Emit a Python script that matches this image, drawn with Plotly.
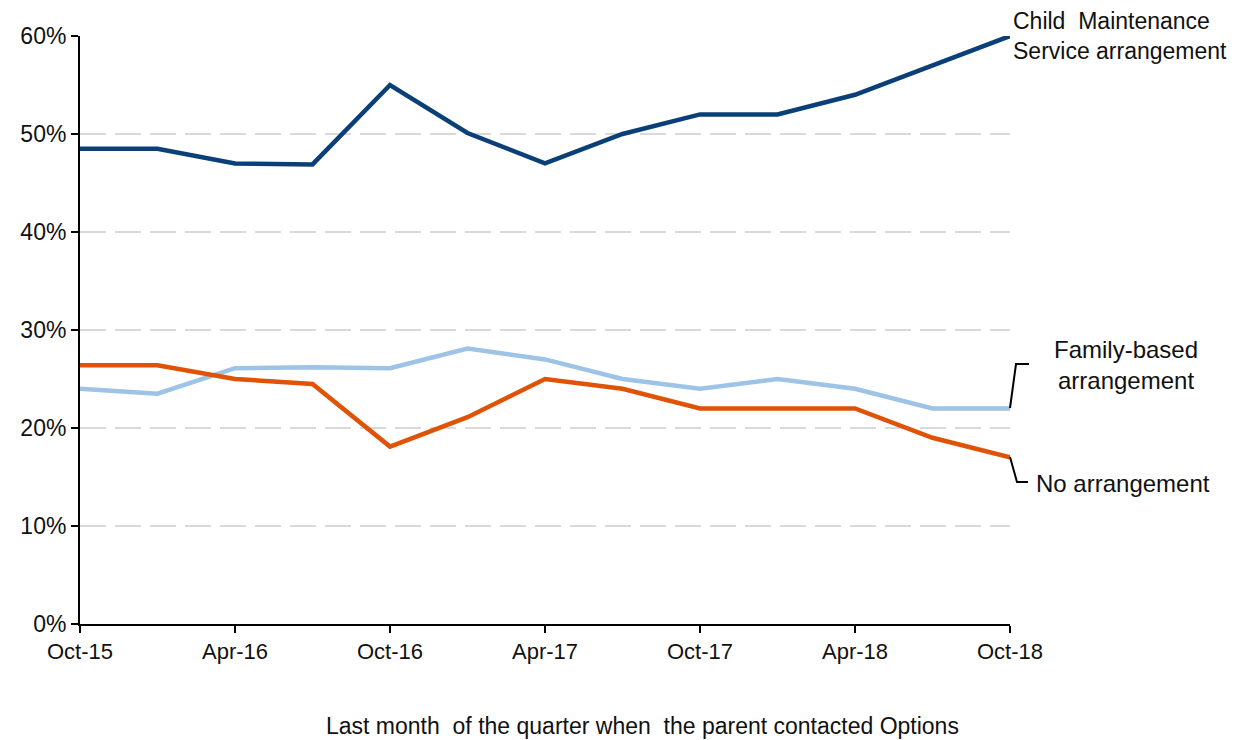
import plotly.graph_objects as go

quarters = ["Oct-15", "Jan-16", "Apr-16", "Jul-16", "Oct-16", "Jan-17", "Apr-17",
            "Jul-17", "Oct-17", "Jan-18", "Apr-18", "Jul-18", "Oct-18"]
cms = [48.5, 48.5, 47.0, 46.9, 55.0, 50.1, 47.0, 50.0, 52.0, 52.0, 54.0, 57.0, 60.0]
family = [24.0, 23.5, 26.1, 26.2, 26.1, 28.1, 27.0, 25.0, 24.0, 25.0, 24.0, 22.0, 22.0]
none_arr = [26.4, 26.4, 25.0, 24.5, 18.1, 21.1, 25.0, 24.0, 22.0, 22.0, 22.0, 19.0, 17.0]
y_ticks = [0, 10, 20, 30, 40, 50, 60]

FONT = "Liberation Sans, Arial, sans-serif"
OFF = 8  # page body margin
W, H = 1238 - OFF, 740 - OFF
L, R, T, B = 80 - OFF, 228, 36 - OFF, 116
PW, PH = W - L - R, H - T - B

def px(x):
    # page pixel -> paper fraction
    return (x - OFF - L) / PW

def py(y):
    return (H - B - (y - OFF)) / PH

fig = go.Figure()
fig.add_trace(go.Scatter(x=quarters, y=family, mode="lines",
                         line=dict(color="#9DC3E6", width=4.5), name="Family-based arrangement"))
fig.add_trace(go.Scatter(x=quarters, y=none_arr, mode="lines",
                         line=dict(color="#E05206", width=4.5), name="No arrangement"))
fig.add_trace(go.Scatter(x=quarters, y=cms, mode="lines",
                         line=dict(color="#0A3F78", width=4.5), name="Child Maintenance Service arrangement"))

fig.update_layout(
    width=W, height=H,
    margin=dict(l=L, r=R, t=T, b=B),
    paper_bgcolor="white", plot_bgcolor="white",
    showlegend=False,
    font=dict(family=FONT, size=22, color="#111111"),
    xaxis=dict(
        type="category", range=[0, 12],
        tickmode="array", tickvals=quarters[::2], ticktext=quarters[::2],
        showline=True, linecolor="black", linewidth=2,
        ticks="outside", ticklen=7, tickwidth=2, tickcolor="black",
        showgrid=False, zeroline=False,
        tickfont=dict(size=22, family=FONT, color="#111111"),
    ),
    yaxis=dict(
        range=[0, 60], tickvals=y_ticks, ticktext=[f"{v}%" for v in y_ticks],
        showline=True, linecolor="black", linewidth=2,
        ticks="outside", ticklen=7, tickwidth=2, tickcolor="black",
        showgrid=True, gridcolor="#D9D9D9", gridwidth=2, griddash="26px,9px",
        zeroline=False,
        tickfont=dict(size=23, family=FONT, color="#111111"),
    ),
)

fig.add_annotation(xref="paper", yref="paper", x=px(642), y=py(726),
                   text="Last month  of the quarter when  the parent contacted Options",
                   showarrow=False, xanchor="center", yanchor="middle",
                   font=dict(size=23, family=FONT, color="#111111"))

fig.add_annotation(xref="paper", yref="paper", x=px(1011), y=py(36),
                   text="Child  Maintenance<br>Service arrangement",
                   showarrow=False, xanchor="left", yanchor="middle", align="left",
                   font=dict(size=23, family=FONT, color="#111111"))
fig.add_annotation(xref="paper", yref="paper", x=px(1126), y=py(365),
                   text="Family-based<br>arrangement",
                   showarrow=False, xanchor="center", yanchor="middle", align="center",
                   font=dict(size=24, family=FONT, color="#111111"))
fig.add_annotation(xref="paper", yref="paper", x=px(1034), y=py(483),
                   text="No arrangement",
                   showarrow=False, xanchor="left", yanchor="middle", align="left",
                   font=dict(size=24, family=FONT, color="#111111"))

fig.add_shape(type="path", xref="paper", yref="paper",
              path=f"M {px(1010)},{py(408)} L {px(1016)},{py(364)} L {px(1029)},{py(364)}",
              line=dict(color="black", width=2))
fig.add_shape(type="path", xref="paper", yref="paper",
              path=f"M {px(1010)},{py(457)} L {px(1017)},{py(482)} L {px(1028)},{py(482)}",
              line=dict(color="black", width=2))

fig.write_html("out.html")
